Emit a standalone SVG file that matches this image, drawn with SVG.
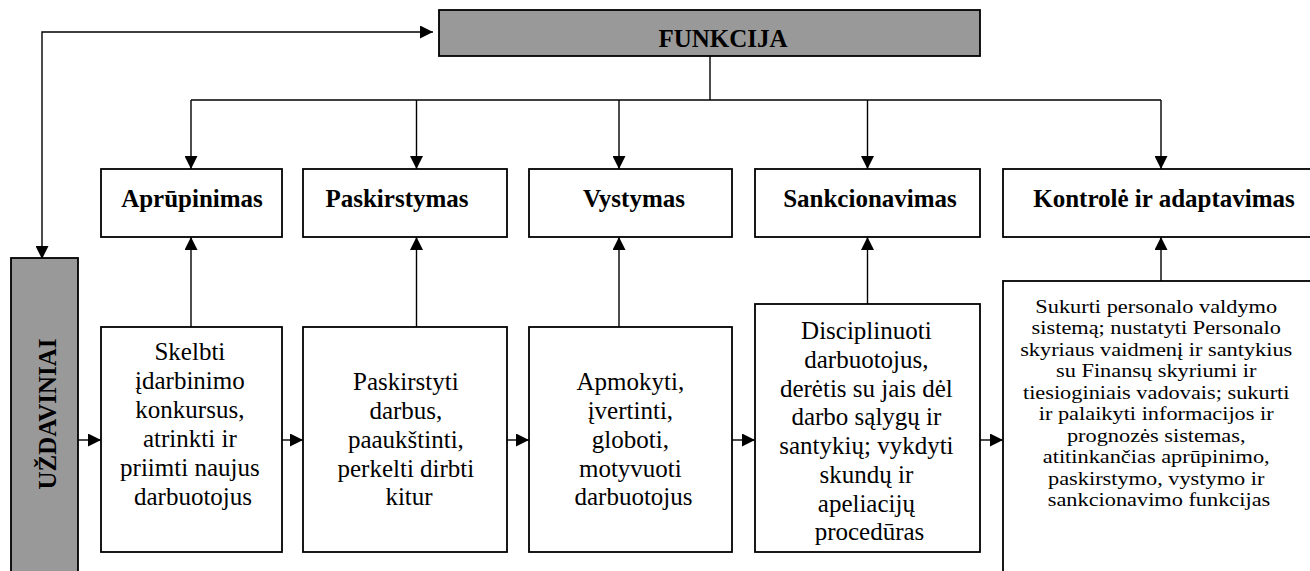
<svg xmlns="http://www.w3.org/2000/svg" width="1310" height="571" viewBox="0 0 1310 571">
<style>
.box{fill:#ffffff;stroke:#000;stroke-width:1.8}
.gray{fill:#999999;stroke:#000;stroke-width:1.8}
.ln{fill:none;stroke:#000;stroke-width:1.4}
.ar{fill:none;stroke:#000;stroke-width:1.4;marker-end:url(#ah)}
text{font-family:'Liberation Serif',Tinos,'Times New Roman',Times,'DejaVu Serif',serif;text-anchor:middle;fill:#000}
.hd{font-weight:bold;font-size:25px}
.tx{font-size:25px}
.sm{font-size:19.5px}
</style>
<defs>
<marker id="ah" markerUnits="userSpaceOnUse" markerWidth="13" markerHeight="13" refX="13" refY="6.5" orient="auto-start-reverse" viewBox="0 0 13 13">
<path d="M0,0 L13,6.5 L0,13 z" fill="#000"/>
</marker>
</defs>
<rect width="1310" height="571" fill="#fff"/>

<g id="connectors">
<path class="ln" d="M42,259 L42,32 L433,32" marker-start="url(#ah)" marker-end="url(#ah)"/>
<path class="ln" d="M710,56 L710,100"/>
<path class="ln" d="M191,100 L1161,100"/>
<path class="ar" d="M191,100 L191,169"/>
<path class="ar" d="M416.5,100 L416.5,169"/>
<path class="ar" d="M619,100 L619,169"/>
<path class="ar" d="M867.5,100 L867.5,169"/>
<path class="ar" d="M1161,100 L1161,169"/>
<path class="ar" d="M191,327 L191,237"/>
<path class="ar" d="M416.5,327 L416.5,237"/>
<path class="ar" d="M619,327 L619,237"/>
<path class="ar" d="M867.5,304 L867.5,237"/>
<path class="ar" d="M1161,281 L1161,237"/>
<path class="ar" d="M78,440 L101,440"/>
<path class="ar" d="M282,440 L303,440"/>
<path class="ar" d="M507,440 L529,440"/>
<path class="ar" d="M732,440 L755,440"/>
<path class="ar" d="M980,440 L1003,440"/>
</g>

<g id="funkcija">
<rect class="gray" x="439" y="10" width="541" height="46"/>
<text class="hd" x="723" y="47" font-family="Liberation Serif, serif">FUNKCIJA</text>
</g>

<g id="uzdaviniai">
<rect class="gray" x="11" y="258" width="67" height="330"/>
<text class="hd" x="56" y="414" transform="rotate(-90 56 414)">UŽDAVINIAI</text>
</g>

<g id="aprupinimas">
<rect class="box" x="101" y="169" width="181" height="68"/>
<text class="hd" x="192" y="207">Aprūpinimas</text>
</g>
<g id="paskirstymas">
<rect class="box" x="303" y="169" width="204" height="68"/>
<text class="hd" x="397" y="207">Paskirstymas</text>
</g>
<g id="vystymas">
<rect class="box" x="529" y="169" width="203" height="68"/>
<text class="hd" x="634" y="207">Vystymas</text>
</g>
<g id="sankcionavimas">
<rect class="box" x="755" y="169" width="225" height="68"/>
<text class="hd" x="870" y="207">Sankcionavimas</text>
</g>
<g id="kontrole">
<rect class="box" x="1003" y="169" width="320" height="68"/>
<text class="hd" x="1164" y="207">Kontrolė ir adaptavimas</text>
</g>

<g id="aprupinimas-uzd">
<rect class="box" x="101" y="327" width="181" height="225"/>
<text class="tx">
<tspan x="193" y="360">Skelbti</tspan>
<tspan x="193" y="389">įdarbinimo</tspan>
<tspan x="193" y="418">konkursus,</tspan>
<tspan x="193" y="447">atrinkti ir</tspan>
<tspan x="193" y="476">priimti naujus</tspan>
<tspan x="193" y="505">darbuotojus</tspan>
</text>
</g>
<g id="paskirstymas-uzd">
<rect class="box" x="303" y="327" width="204" height="225"/>
<text class="tx">
<tspan x="409" y="390">Paskirstyti</tspan>
<tspan x="409" y="419">darbus,</tspan>
<tspan x="409" y="448">paaukštinti,</tspan>
<tspan x="409" y="477">perkelti dirbti</tspan>
<tspan x="409" y="505">kitur</tspan>
</text>
</g>
<g id="vystymas-uzd">
<rect class="box" x="529" y="327" width="203" height="225"/>
<text class="tx">
<tspan x="633.5" y="390">Apmokyti,</tspan>
<tspan x="633.5" y="419">įvertinti,</tspan>
<tspan x="633.5" y="448">globoti,</tspan>
<tspan x="633.5" y="477">motyvuoti</tspan>
<tspan x="633.5" y="505">darbuotojus</tspan>
</text>
</g>
<g id="sankcionavimas-uzd">
<rect class="box" x="755" y="304" width="225" height="248"/>
<text class="tx">
<tspan x="869.5" y="339">Disciplinuoti</tspan>
<tspan x="869.5" y="368">darbuotojus,</tspan>
<tspan x="869.5" y="397">derėtis su jais dėl</tspan>
<tspan x="869.5" y="425">darbo sąlygų ir</tspan>
<tspan x="869.5" y="454">santykių; vykdyti</tspan>
<tspan x="869.5" y="483">skundų ir</tspan>
<tspan x="869.5" y="512">apeliacijų</tspan>
<tspan x="869.5" y="540">procedūras</tspan>
</text>
</g>
<g id="kontrole-uzd">
<rect class="box" x="1003" y="281" width="320" height="310"/>
<g transform="translate(1159,0) scale(1.145,1)">
<text class="sm">
<tspan x="0" y="313">Sukurti personalo valdymo</tspan>
<tspan x="0" y="334.5">sistemą; nustatyti Personalo</tspan>
<tspan x="0" y="356">skyriaus vaidmenį ir santykius</tspan>
<tspan x="0" y="377.5">su Finansų skyriumi ir</tspan>
<tspan x="0" y="399">tiesioginiais vadovais; sukurti</tspan>
<tspan x="0" y="420.5">ir palaikyti informacijos ir</tspan>
<tspan x="0" y="442">prognozės sistemas,</tspan>
<tspan x="0" y="463.5">atitinkančias aprūpinimo,</tspan>
<tspan x="0" y="485">paskirstymo, vystymo ir</tspan>
<tspan x="0" y="506.5">sankcionavimo funkcijas</tspan>
</text>
</g>
</g>
</svg>
